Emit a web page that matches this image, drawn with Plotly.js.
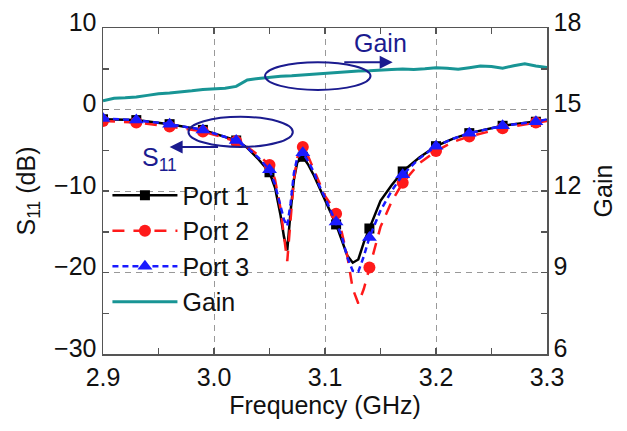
<!DOCTYPE html>
<html>
<head>
<meta charset="utf-8">
<script src="https://cdn.plot.ly/plotly-3.0.1.min.js"></script>
<style>html,body{margin:0;padding:0;background:#fff;}#chart{width:627px;height:431px;}</style>
</head>
<body>
<div id="chart"></div>
<script>
// S11 curves (dB) vs frequency (GHz)
const freq = [2.90, 2.93, 2.96, 2.99, 3.02, 3.03, 3.04, 3.05, 3.055, 3.06, 3.063, 3.066, 3.069, 3.072, 3.075, 3.08, 3.085, 3.09, 3.095, 3.10, 3.105, 3.11, 3.115, 3.12, 3.125, 3.13, 3.135, 3.14, 3.15, 3.16, 3.17, 3.185, 3.20, 3.215, 3.23, 3.26, 3.29, 3.30];
const port1 = [-1.2, -1.3, -1.8, -2.5, -3.8, -4.7, -6.1, -7.7, -9.6, -13.0, -15.6, -17.3, -12.5, -8.6, -6.5, -5.8, -6.8, -8.1, -9.6, -11.1, -12.7, -14.1, -16.0, -17.9, -18.8, -18.4, -16.3, -14.6, -11.2, -9.3, -7.6, -5.9, -4.5, -3.6, -2.9, -2.0, -1.5, -1.3];
const port2 = [-1.4, -1.6, -2.1, -2.7, -3.9, -4.6, -5.6, -6.8, -8.6, -12.2, -15.5, -18.6, -13.5, -8.6, -5.9, -4.6, -5.8, -7.4, -9.1, -10.6, -11.6, -12.8, -15.0, -17.9, -22.0, -23.8, -22.0, -19.4, -14.4, -11.3, -9.0, -6.6, -5.1, -4.0, -3.3, -2.3, -1.6, -1.4];
const port3 = [-1.1, -1.3, -1.8, -2.5, -3.8, -4.7, -5.9, -7.4, -9.2, -11.8, -13.5, -14.3, -11.5, -7.8, -5.9, -5.3, -6.4, -7.7, -9.4, -10.8, -12.3, -13.8, -15.5, -18.1, -19.8, -19.9, -18.0, -15.7, -12.4, -10.0, -8.0, -6.0, -4.5, -3.6, -2.9, -2.0, -1.5, -1.2];
// marker frequencies (subset of freq)
const markerFreq = [2.90, 2.93, 2.96, 2.99, 3.02, 3.05, 3.08, 3.11, 3.14, 3.17, 3.20, 3.23, 3.26, 3.29];
// Gain vs frequency
const gainFreq = [2.90, 2.91, 2.92, 2.93, 2.94, 2.95, 2.96, 2.97, 2.98, 2.99, 3.00, 3.01, 3.02, 3.03, 3.04, 3.05, 3.06, 3.07, 3.08, 3.09, 3.10, 3.11, 3.12, 3.13, 3.14, 3.15, 3.16, 3.17, 3.18, 3.19, 3.20, 3.21, 3.22, 3.23, 3.24, 3.25, 3.26, 3.27, 3.28, 3.29, 3.30];
const gain = [15.32, 15.41, 15.43, 15.46, 15.52, 15.58, 15.61, 15.64, 15.69, 15.74, 15.75, 15.78, 15.85, 16.09, 16.14, 16.19, 16.22, 16.24, 16.27, 16.31, 16.33, 16.36, 16.38, 16.42, 16.43, 16.44, 16.47, 16.49, 16.47, 16.50, 16.54, 16.52, 16.48, 16.54, 16.60, 16.58, 16.52, 16.61, 16.68, 16.60, 16.55];
const seriesNames = ['Port 1', 'Port 2', 'Port 3', 'Gain'];
const xTickLabels = ['2.9', '3.0', '3.1', '3.2', '3.3'];

const FONT = 'Liberation Sans, Arial, sans-serif';
const NAVY = '#1b1b8f';
const TEAL = '#189595';

const styles = [
  {data: port1, color: '#000000', dash: 'solid', symbol: 'square', size: 10},
  {data: port2, color: '#ff1a1a', dash: '12px,9px', symbol: 'circle', size: 12},
  {data: port3, color: '#1a1aff', dash: '6px,4px', symbol: 'triangle-up', size: 13}
];

const traces = [];
styles.forEach((s, i) => {
  traces.push({x: freq, y: s.data, type: 'scatter', mode: 'lines', showlegend: false,
    line: {color: s.color, width: 2.5, dash: s.dash}, hoverinfo: 'skip'});
  const my = markerFreq.map(f => s.data[freq.indexOf(f)]);
  traces.push({x: markerFreq, y: my, type: 'scatter', mode: 'markers', showlegend: false,
    marker: {color: s.color, symbol: s.symbol, size: s.size}, cliponaxis: true});
});
// legend entries
styles.forEach((s, i) => {
  traces.push({x: [null], y: [null], type: 'scatter', mode: 'lines+markers', name: seriesNames[i],
    line: {color: s.color, width: 2.5, dash: s.dash}, marker: {color: s.color, symbol: s.symbol, size: s.size}});
});
traces.push({x: gainFreq, y: gain, yaxis: 'y2', type: 'scatter', mode: 'lines', name: seriesNames[3],
  line: {color: TEAL, width: 3}});

const axisCommon = {
  showline: true, linecolor: '#555', linewidth: 1.5, mirror: false,
  ticks: 'inside', ticklen: 6, tickwidth: 1.5, tickcolor: '#555',
  tickfont: {family: FONT, size: 25, color: '#111'},
  zeroline: false
};

const layout = {
  width: 627, height: 431,
  margin: {l: 103, r: 80, t: 28, b: 77},
  paper_bgcolor: '#fff', plot_bgcolor: '#fff',
  font: {family: FONT, size: 25, color: '#111'},
  xaxis: Object.assign({}, axisCommon, {
    range: [2.9, 3.3], tickvals: [2.9, 3.0, 3.1, 3.2, 3.3], ticktext: xTickLabels,
    mirror: 'ticks',
    showgrid: true, gridcolor: '#999', griddash: '6px,5px', gridwidth: 1,
    minor: {dtick: 0.05, tick0: 2.9, ticks: 'inside', ticklen: 6, tickwidth: 1.5, tickcolor: '#555', showgrid: false},
    title: {text: 'Frequency (GHz)', font: {family: FONT, size: 25}, standoff: 2}
  }),
  yaxis: Object.assign({}, axisCommon, {
    range: [-30, 10], dtick: 10, tick0: 0, ticklabelshift: -6,
    showgrid: true, gridcolor: '#999', griddash: '6px,5px', gridwidth: 1,
    minor: {dtick: 5, ticks: 'inside', ticklen: 6, tickwidth: 1.5, tickcolor: '#555', showgrid: false},
    tickformat: 'd',
    title: {text: 'S<sub>11</sub> (dB)', font: {family: FONT, size: 25}, standoff: 11}
  }),
  yaxis2: Object.assign({}, axisCommon, {
    overlaying: 'y', side: 'right', range: [6, 18], dtick: 3, tick0: 6, ticklabelshift: -6,
    showgrid: false,
    minor: {dtick: 1.5, ticks: 'inside', ticklen: 6, tickwidth: 1.5, tickcolor: '#555', showgrid: false},
    title: {text: 'Gain', font: {family: FONT, size: 25}, standoff: 14}
  }),
  showlegend: true,
  legend: {x: 0.01, y: 0.557, xanchor: 'left', yanchor: 'top', bgcolor: 'rgba(0,0,0,0)',
    font: {family: FONT, size: 25, color: '#111'}, itemwidth: 65, tracegroupgap: 0,
    traceorder: 'normal'},
  shapes: [
    {type: 'circle', xref: 'x', yref: 'y', x0: 3.046, x1: 3.141, y0: 2.4, y1: 5.8, line: {color: NAVY, width: 2}},
    {type: 'circle', xref: 'x', yref: 'y', x0: 2.977, x1: 3.071, y0: -4.6, y1: -0.9, line: {color: NAVY, width: 2}}
  ],
  annotations: [
    {x: 3.161, y: 5.8, ax: 3.116, ay: 5.8, xref: 'x', yref: 'y', axref: 'x', ayref: 'y', text: '',
      showarrow: true, arrowhead: 2, arrowsize: 1.3, arrowwidth: 2, arrowcolor: NAVY},
    {x: 2.960, y: -4.6, ax: 3.005, ay: -4.6, xref: 'x', yref: 'y', axref: 'x', ayref: 'y', text: '',
      showarrow: true, arrowhead: 2, arrowsize: 1.3, arrowwidth: 2, arrowcolor: NAVY},
    {x: 3.150, y: 8.1, xref: 'x', yref: 'y', text: 'Gain', showarrow: false,
      font: {family: FONT, size: 25, color: NAVY}},
    {x: 2.951, y: -6.1, xref: 'x', yref: 'y', text: 'S<sub>11</sub>', showarrow: false,
      font: {family: FONT, size: 25, color: NAVY}}
  ]
};

Plotly.newPlot('chart', traces, layout, {staticPlot: true, displayModeBar: false});
</script>
</body>
</html>
